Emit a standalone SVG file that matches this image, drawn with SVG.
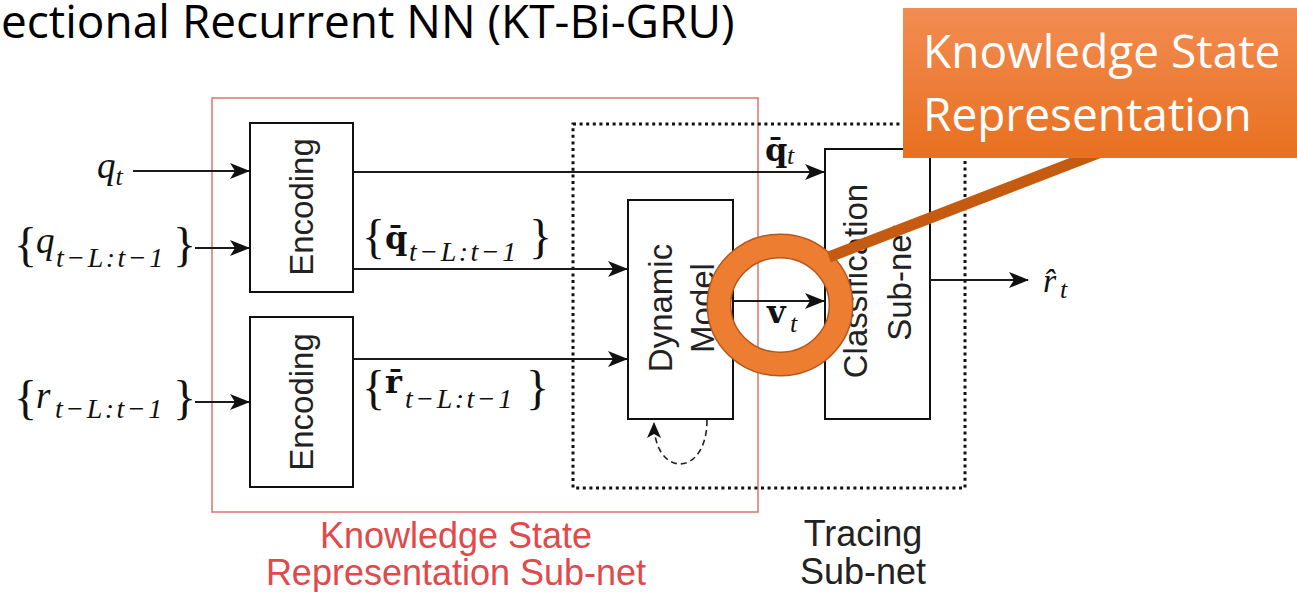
<svg xmlns="http://www.w3.org/2000/svg" width="1297" height="592" viewBox="0 0 1297 592">
<style>
.box{fill:#fff;stroke:#111;stroke-width:2}
.lbl{font-family:"Liberation Sans",Arial,sans-serif;font-size:33px;fill:#222}
.conn{fill:none;stroke:#1a1a1a;stroke-width:2.2}
.m{font-family:"Liberation Serif","DejaVu Serif",serif;fill:#111}
.it{font-style:italic}
.bf{font-weight:bold;font-family:"DejaVu Serif","Liberation Serif",serif}
.cap{font-family:"Liberation Sans",Arial,sans-serif;font-size:36px;text-anchor:middle}
</style>
<defs>
<marker id="ah" viewBox="0 0 20 16" refX="19" refY="8" markerWidth="20" markerHeight="16" orient="auto" markerUnits="userSpaceOnUse"><path d="M0,0 L20,8 L0,16 L5,8 z" fill="#111"/></marker>
<marker id="ahs" viewBox="0 0 16 14" refX="15" refY="7" markerWidth="16" markerHeight="14" orient="auto" markerUnits="userSpaceOnUse"><path d="M0,0 L16,7 L0,14 L4,7 z" fill="#111"/></marker>
<linearGradient id="og" x1="0" y1="0" x2="0" y2="1"><stop offset="0" stop-color="#F28C52"/><stop offset="1" stop-color="#E8701F"/></linearGradient>
</defs>
<rect width="1297" height="592" fill="#fff"/>
<text x="1" y="38" font-family="'Open Sans','Noto Sans',sans-serif" font-size="46" fill="#000">ectional Recurrent NN (KT-Bi-GRU)</text>

<g id="ksr-subnet">
<rect x="212" y="98" width="546" height="414" fill="none" stroke="#e07a7a" stroke-width="1.6"/>
<text class="cap" x="456" y="548" fill="#e04a4a">Knowledge State</text>
<text class="cap" x="456" y="585" fill="#e04a4a">Representation Sub-net</text>
</g>
<g id="tracing-subnet">
<rect x="573" y="124" width="392" height="364" fill="none" stroke="#111" stroke-width="3" stroke-dasharray="3 3.6"/>
<text class="cap" x="863" y="546" fill="#222">Tracing</text>
<text class="cap" x="863" y="584" fill="#222">Sub-net</text>
</g>

<g id="encoding1">
<rect class="box" x="250" y="123" width="103" height="169"/>
<text class="lbl" x="301" y="207" text-anchor="middle" dominant-baseline="central" transform="rotate(-90 301 207)">Encoding</text>
</g>
<g id="encoding2">
<rect class="box" x="250" y="317" width="103" height="170"/>
<text class="lbl" x="301" y="402" text-anchor="middle" dominant-baseline="central" transform="rotate(-90 301 402)">Encoding</text>
</g>
<g id="dynamic-model">
<rect class="box" x="628" y="200" width="105" height="219"/>
<text class="lbl" x="660" y="308" text-anchor="middle" dominant-baseline="central" transform="rotate(-90 660 308)">Dynamic</text>
<text class="lbl" x="702" y="308" text-anchor="middle" dominant-baseline="central" transform="rotate(-90 702 308)">Model</text>
</g>
<g id="classification-subnet">
<rect class="box" x="825" y="149" width="105" height="270"/>
<text class="lbl" x="855" y="281" text-anchor="middle" dominant-baseline="central" transform="rotate(-90 855 281)">Classification</text>
<text class="lbl" x="899" y="283" text-anchor="middle" dominant-baseline="central" transform="rotate(-90 899 283)">Sub-net</text>
</g>

<g id="connectors">
<path class="conn" d="M133,171 H249" marker-end="url(#ah)"/>
<path class="conn" d="M195,248 H249" marker-end="url(#ah)"/>
<path class="conn" d="M195,402 H249" marker-end="url(#ah)"/>
<path class="conn" d="M353,172 H824" marker-end="url(#ah)"/>
<path class="conn" d="M353,269 H627" marker-end="url(#ah)"/>
<path class="conn" d="M353,359 H627" marker-end="url(#ah)"/>
<path class="conn" d="M733,301 H824" marker-end="url(#ah)"/>
<path class="conn" d="M930,280 H1028" marker-end="url(#ah)"/>
<path d="M707,420 C707,478 654,478 654,423" fill="none" stroke="#222" stroke-width="1.6" stroke-dasharray="6 4" marker-end="url(#ahs)"/>
</g>

<g id="math-labels">
<text class="m it" x="97" y="178" font-size="37">q<tspan font-size="26" dy="7">t</tspan></text>
<text class="m" x="14" y="261" font-size="48">{<tspan class="it" x="36" y="253" font-size="37">q</tspan><tspan class="it" x="56" y="267" font-size="28" letter-spacing="2.5">t−L:t−1</tspan><tspan x="173" y="261">}</tspan></text>
<text class="m" x="14" y="414" font-size="48">{<tspan class="it" x="36" y="408" font-size="37">r</tspan><tspan class="it" x="55" y="418" font-size="28" letter-spacing="2.5">t−L:t−1</tspan><tspan x="173" y="414">}</tspan></text>
<text class="m" x="362" y="253" font-size="48">{<tspan class="bf" x="385" y="249" font-size="32">q̄</tspan><tspan class="it" x="409" y="261" font-size="28" letter-spacing="2.5">t−L:t−1</tspan><tspan x="529" y="253">}</tspan></text>
<text class="m" x="362" y="404" font-size="48">{<tspan class="bf" x="385" y="393" font-size="32">r̄</tspan><tspan class="it" x="405" y="408" font-size="28" letter-spacing="2.5">t−L:t−1</tspan><tspan x="526" y="404">}</tspan></text>
<text class="m" x="765" y="161" font-size="32"><tspan class="bf">q̄</tspan><tspan class="it" x="787" y="164" font-size="26">t</tspan></text>
<text class="m" x="767" y="323" font-size="32"><tspan class="bf">v</tspan><tspan class="it" x="790" y="332" font-size="26">t</tspan></text>
<text class="m it" x="1043" y="292" font-size="34">r̂<tspan x="1060" y="298" font-size="26">t</tspan></text>
</g>

<g id="callout">
<ellipse cx="780" cy="305" rx="61" ry="59" fill="none" stroke="#B8561A" stroke-width="25"/>
<ellipse cx="780" cy="305" rx="61" ry="59" fill="none" stroke="#ED7D31" stroke-width="22"/>
<line x1="829" y1="257" x2="1106" y2="150" stroke="#C55A11" stroke-width="11"/>
<rect x="903" y="8" width="394" height="150" fill="url(#og)"/>
<text x="923" y="68" font-family="'Open Sans','Noto Sans',sans-serif" font-size="46" fill="#fff">Knowledge State</text>
<text x="923" y="131" font-family="'Open Sans','Noto Sans',sans-serif" font-size="46" fill="#fff">Representation</text>
</g>
</svg>
